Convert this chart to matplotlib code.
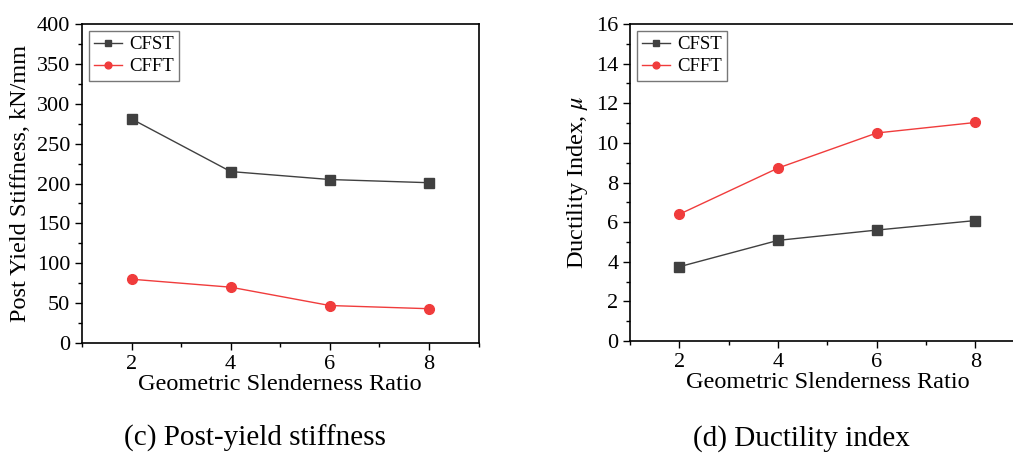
import matplotlib
matplotlib.use("Agg")
import matplotlib.pyplot as plt
from matplotlib.ticker import MultipleLocator

plt.rcParams['font.family'] = ['Liberation Serif', 'DejaVu Serif']
plt.rcParams['mathtext.fontset'] = 'stix'

ratio = [2, 4, 6, 8]
stiff_cfst = [281, 215, 205, 201]
stiff_cfft = [80, 70, 47, 43]
duct_cfst = [3.75, 5.08, 5.6, 6.08]
duct_cfft = [6.4, 8.73, 10.5, 11.03]

gray = '#404040'
red = '#f03c3c'

fig = plt.figure(figsize=(10.13, 4.53), dpi=100)
ax1 = fig.add_axes([0.0809, 0.2428, 0.3915, 0.7042])
ax2 = fig.add_axes([0.622, 0.2472, 0.3896, 0.6998])

def style(ax, ylim, major, minor, ylabel):
    ax.set_xlim(1, 9)
    ax.set_ylim(*ylim)
    ax.xaxis.set_major_locator(MultipleLocator(2))
    ax.xaxis.set_minor_locator(MultipleLocator(1))
    ax.yaxis.set_major_locator(MultipleLocator(major))
    ax.yaxis.set_minor_locator(MultipleLocator(minor))
    ax.tick_params(axis='both', which='major', direction='out', length=5, width=1,
                   labelsize=16, top=False, right=False)
    ax.tick_params(axis='both', which='minor', direction='out', length=3, width=1,
                   top=False, right=False)
    for s in ax.spines.values():
        s.set_linewidth(1.2)
    ax.set_xlabel('Geometric Slenderness Ratio', fontsize=17.5, labelpad=0)
    ax.set_ylabel(ylabel, fontsize=17.5, labelpad=4)
    leg = ax.legend(loc='upper left', fontsize=13.5, frameon=True, fancybox=False,
                    edgecolor='#555555', handlelength=1.5, handletextpad=0.35,
                    borderpad=0.3, labelspacing=0.25, borderaxespad=0.35,
                    markerscale=0.7)
    leg.get_frame().set_linewidth(1.0)

ax1.plot(ratio, stiff_cfst, color=gray, marker='s', markersize=7, lw=1, label='CFST')
ax1.plot(ratio, stiff_cfft, color=red, marker='o', markersize=7, lw=1, label='CFFT')
style(ax1, (0, 400), 50, 25, 'Post Yield Stiffness, kN/mm')

ax2.plot(ratio, duct_cfst, color=gray, marker='s', markersize=7, lw=1, label='CFST')
ax2.plot(ratio, duct_cfft, color=red, marker='o', markersize=7, lw=1, label='CFFT')
style(ax2, (0, 16), 2, 1, r'Ductility Index, $\mu$')

fig.text(0.252, 0.003, '(c) Post-yield stiffness', fontsize=21, ha='center', va='bottom')
fig.text(0.791, 0.003, '(d) Ductility index', fontsize=21, ha='center', va='bottom')

fig.savefig('out.png', dpi=100)
